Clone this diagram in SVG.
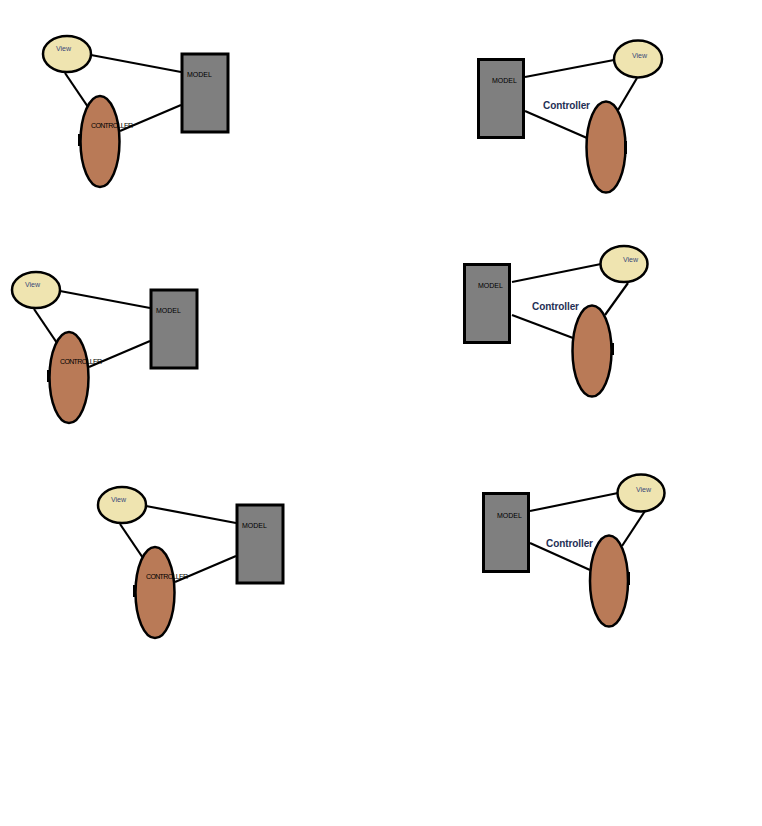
<svg xmlns="http://www.w3.org/2000/svg" width="762" height="826" viewBox="0 0 762 826">
<style>
.view{fill:#EFE4B0;stroke:#000;stroke-width:2.5}
.ctrl{fill:#B97A57;stroke:#000;stroke-width:2.5}
.model{fill:#7F7F7F;stroke:#000;stroke-width:3}
.notch{fill:#000}
.conn line{stroke:#000;stroke-width:2.2}
.t{font-family:"Liberation Sans",Arial,sans-serif;font-size:7px;fill:#000}
.tv{font-family:"Liberation Sans",Arial,sans-serif;font-size:7px;fill:#3A4A7A}
.tc{font-family:"Liberation Sans",Arial,sans-serif;font-size:10px;font-weight:bold;fill:#1F2F55}
</style>
<rect width="762" height="826" fill="#fff"/>
<g id="connectors" class="conn">
<line x1="91" y1="55" x2="181" y2="72"/>
<line x1="65" y1="73" x2="88" y2="107"/>
<line x1="120" y1="131" x2="181" y2="105"/>
<line x1="60" y1="291" x2="150" y2="308"/>
<line x1="34" y1="309" x2="57" y2="343"/>
<line x1="89" y1="367" x2="150" y2="341"/>
<line x1="146" y1="506" x2="236" y2="523"/>
<line x1="120" y1="524" x2="143" y2="558"/>
<line x1="175" y1="582" x2="236" y2="556"/>
<line x1="525" y1="77" x2="614" y2="60"/>
<line x1="637" y1="78" x2="618" y2="110"/>
<line x1="525" y1="111" x2="587" y2="138"/>
<line x1="512" y1="282" x2="601" y2="264"/>
<line x1="628" y1="283" x2="605" y2="315"/>
<line x1="512" y1="315" x2="573" y2="338"/>
<line x1="530" y1="511" x2="618" y2="493"/>
<line x1="645" y1="511" x2="622" y2="546"/>
<line x1="530" y1="543" x2="590" y2="570"/>
</g>
<g id="view1"><ellipse class="view" cx="67" cy="54" rx="24" ry="18"/><text class="tv" x="56" y="51">View</text></g>
<g id="model1"><rect class="model" x="182" y="54" width="46" height="78"/><text class="t" x="187" y="77">MODEL</text></g>
<g id="controller1"><ellipse class="ctrl" cx="100" cy="141.5" rx="19.5" ry="45.5"/><rect class="notch" x="78" y="134" width="3" height="12"/><text class="t" x="91" y="128" textLength="42">CONTROLLER</text></g>
<g id="view3"><ellipse class="view" cx="36" cy="290" rx="24" ry="18"/><text class="tv" x="25" y="287">View</text></g>
<g id="model3"><rect class="model" x="151" y="290" width="46" height="78"/><text class="t" x="156" y="313">MODEL</text></g>
<g id="controller3"><ellipse class="ctrl" cx="69" cy="377.5" rx="19.5" ry="45.5"/><rect class="notch" x="47" y="370" width="3" height="12"/><text class="t" x="60" y="364" textLength="42">CONTROLLER</text></g>
<g id="view5"><ellipse class="view" cx="122" cy="505" rx="24" ry="18"/><text class="tv" x="111" y="502">View</text></g>
<g id="model5"><rect class="model" x="237" y="505" width="46" height="78"/><text class="t" x="242" y="528">MODEL</text></g>
<g id="controller5"><ellipse class="ctrl" cx="155" cy="592.5" rx="19.5" ry="45.5"/><rect class="notch" x="133" y="585" width="3" height="12"/><text class="t" x="146" y="579" textLength="42">CONTROLLER</text></g>
<g id="model2"><rect class="model" x="478.5" y="59.5" width="45" height="78"/><text class="t" x="492" y="83">MODEL</text></g>
<g id="view2"><ellipse class="view" cx="638" cy="59" rx="24" ry="18.5"/><text class="tv" x="632" y="57.5">View</text></g>
<g id="controller2"><ellipse class="ctrl" cx="606" cy="147" rx="19.5" ry="45.5"/><rect class="notch" x="624" y="141" width="3" height="13"/><text class="tc" x="543" y="109" textLength="47">Controller</text></g>
<g id="model4"><rect class="model" x="464.5" y="264.5" width="45" height="78"/><text class="t" x="478" y="288">MODEL</text></g>
<g id="view4"><ellipse class="view" cx="624" cy="264" rx="23.5" ry="18"/><text class="tv" x="623" y="262">View</text></g>
<g id="controller4"><ellipse class="ctrl" cx="592" cy="351" rx="19.5" ry="45.5"/><rect class="notch" x="611" y="343" width="3" height="12"/><text class="tc" x="532" y="310" textLength="47">Controller</text></g>
<g id="model6"><rect class="model" x="483.5" y="493.5" width="45" height="78"/><text class="t" x="497" y="517.5">MODEL</text></g>
<g id="view6"><ellipse class="view" cx="641" cy="493" rx="23.5" ry="18.5"/><text class="tv" x="636" y="492">View</text></g>
<g id="controller6"><ellipse class="ctrl" cx="609" cy="581" rx="19" ry="45.5"/><rect class="notch" x="627" y="572" width="3" height="13"/><text class="tc" x="546" y="547" textLength="47">Controller</text></g>
</svg>
